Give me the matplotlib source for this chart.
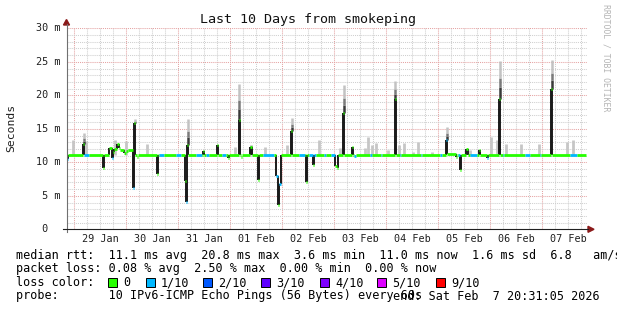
import matplotlib
matplotlib.use("Agg")
import matplotlib.pyplot as plt
from matplotlib.patches import Rectangle, Polygon
import numpy as np
from datetime import datetime, timedelta

# ---------------- data ----------------
title = "Last 10 Days from smokeping"
ylabel = "Seconds"
end_time = datetime(2026, 2, 7, 20, 31, 5)
span_hours = 240.0
baseline = 11.1

# median rtt change points (hours since start), value (ms), loss index
med_hours = [0.0, 0.6, 7.6, 8.1, 10.4, 17.0, 17.5, 19.6, 20.9, 21.4, 21.9, 23.4, 24.2, 24.7,
             26.5, 27.5, 28.4, 30.7, 31.2, 31.8, 32.6, 33.2, 41.6, 42.1, 42.7, 45.0, 50.5,
             52.8, 54.8, 55.2, 55.6, 56.1, 59.8, 62.6, 63.1, 63.6, 64.4, 65.8, 69.3, 69.9,
             71.8, 73.6, 74.4, 74.9, 79.5, 80.0, 80.5, 81.0, 84.7, 85.4, 88.2, 88.7, 90.7,
             95.8, 96.7, 97.6, 98.3, 99.1, 103.6, 104.1, 107.3, 110.1, 110.5, 111.0, 111.9,
             113.9, 114.4, 115.2, 118.8, 119.7, 122.1, 123.9, 124.1, 124.8, 125.3, 127.6,
             128.1, 131.8, 132.3, 132.7, 133.6, 140.1, 140.8, 145.2, 145.8, 151.5, 152.0,
             153.9, 154.6, 163.6, 164.3, 172.4, 173.1, 175.3, 175.8, 179.8, 180.3, 180.8,
             181.4, 182.0, 184.4, 185.4, 186.2, 189.4, 190.4, 191.0, 193.9, 194.5, 199.6,
             200.1, 201.4, 202.1, 211.6, 213.9, 218.5, 219.2, 223.6, 224.1, 232.4, 235.6]
med_values = [10.5, 11.1, 12.8, 11.1, 11.1, 9.2, 11.1, 12.1, 10.7, 11.6, 12.0, 12.8, 12.2, 11.9,
              11.4, 11.7, 11.8, 6.2, 15.8, 11.1, 10.8, 11.1, 8.3, 11.1, 11.1, 11.1, 11.1,
              11.1, 7.2, 4.1, 12.6, 11.1, 11.1, 11.1, 11.7, 11.1, 11.1, 11.1, 12.6, 11.1,
              11.1, 11.1, 10.6, 11.1, 16.3, 11.1, 10.8, 11.1, 12.3, 11.1, 7.4, 11.1, 11.1,
              11.1, 7.9, 3.6, 6.7, 11.1, 14.6, 11.1, 11.1, 11.1, 7.1, 11.1, 11.1,
              9.6, 11.1, 11.1, 11.1, 11.1, 11.1, 11.1, 9.5, 9.2, 11.1, 17.3,
              11.1, 12.3, 11.1, 10.9, 11.1, 11.1, 11.1, 11.1, 11.1, 19.4, 11.1,
              11.1, 11.1, 11.1, 11.1, 11.1, 11.1, 13.3, 11.3, 10.8, 11.1, 11.1,
              8.9, 11.1, 12.0, 11.1, 11.1, 11.1, 11.8, 11.1, 10.6, 11.1, 19.5,
              11.1, 11.1, 11.1, 11.1, 11.1, 11.1, 11.1, 20.9, 11.1, 11.1, 11.1]
med_loss = [1, 0, 0, 1, 0, 0, 0, 0, 1, 0, 0, 0, 0, 0,
            0, 0, 0, 1, 0, 0, 0, 0, 0, 0, 1, 0, 1,
            0, 0, 1, 0, 0, 1, 0, 0, 0, 1, 0, 0, 0,
            1, 0, 0, 0, 0, 0, 0, 0, 0, 0, 0, 0, 1,
            0, 1, 0, 1, 0, 0, 0, 1, 0, 0, 0, 1,
            0, 1, 0, 1, 0, 1, 0, 0, 0, 0, 0,
            0, 0, 0, 1, 0, 1, 0, 1, 0, 0, 0,
            1, 0, 1, 0, 1, 0, 1, 0, 0, 0, 1,
            0, 0, 0, 0, 1, 0, 0, 0, 1, 0, 0,
            0, 1, 0, 1, 0, 1, 0, 0, 0, 1, 0]
line_end_hour = 239.6

# smoke above the big spikes: hour, max ping (ms)
smoke_hours = [7.6, 31.2, 55.6, 79.5, 84.7, 103.6, 127.6, 151.5, 175.3, 199.6, 223.6]
smoke_top = [14.3, 16.4, 16.4, 21.7, 12.6, 16.6, 21.5, 22.2, 15.3, 25.1, 25.3]

# faint smoke bars: hour, max ping (ms)
grey_hours = [3.0, 9.0, 22.4, 27.5, 37.2, 77.8, 85.2, 91.6, 101.8, 116.5, 126.2, 137.8,
              139.3, 140.9, 142.8, 148.4, 153.5, 155.8, 159.9, 162.2, 168.7, 186.2,
              195.8, 198.7, 202.8, 209.8, 218.1, 230.9, 233.6]
grey_top = [13.3, 13.2, 13.3, 13.2, 12.8, 12.3, 12.6, 12.3, 12.6, 13.3, 12.1, 12.1,
            13.8, 12.6, 12.9, 11.8, 12.6, 12.9, 11.6, 13.1, 11.6, 11.8,
            13.8, 13.3, 12.8, 12.8, 12.7, 13.1, 13.3]

ytick_values = [0, 5, 10, 15, 20, 25, 30]
ytick_labels = [" 0  ", " 5 m", "10 m", "15 m", "20 m", "25 m", "30 m"]
xtick_labels = ["29 Jan", "30 Jan", "31 Jan", "01 Feb", "02 Feb",
                "03 Feb", "04 Feb", "05 Feb", "06 Feb", "07 Feb"]

loss_colors = ["#26ff00", "#00b8ff", "#0059ff", "#5e00ff", "#7e00ff", "#dd00ff", "#ff0000"]
loss_labels = ["0", "1/10", "2/10", "3/10", "4/10", "5/10", "9/10"]

stat_line1 = "median rtt:  11.1 ms avg  20.8 ms max  3.6 ms min  11.0 ms now  1.6 ms sd  6.8   am/s"
stat_line2 = "packet loss: 0.08 % avg  2.50 % max  0.00 % min  0.00 % now"
stat_line3 = "loss color:"
stat_line4 = "probe:       10 IPv6-ICMP Echo Pings (56 Bytes) every 60s"
end_label = "end: Sat Feb  7 20:31:05 2026"
credit = "RRDTOOL / TOBI OETIKER"

# ---------------- layout ----------------
W, H, DPI = 617, 310, 100
MONO = "DejaVu Sans Mono"
fig = plt.figure(figsize=(W / DPI, H / DPI), dpi=DPI)
fig.patch.set_facecolor("white")

def fx(x):
    return x / W

def fy(y):
    return 1 - y / H

x0, x1, ytop, ybot = 66.5, 586.5, 28.3, 229.3
ax = fig.add_axes([fx(x0), fy(ybot), (x1 - x0) / W, (ybot - ytop) / H])
ax.set_xlim(0, span_hours)
ax.set_ylim(0, 30)
for s in ax.spines.values():
    s.set_visible(False)
ax.set_xticks([])
ax.set_yticks([])

start_time = end_time - timedelta(hours=span_hours)
first_mid = datetime(start_time.year, start_time.month, start_time.day) + timedelta(days=1)
mid0 = (first_mid - start_time).total_seconds() / 3600.0

dot = (0, (1, 1))
minor_c, major_c = "#cfcfcf", "#e5a3a3"
k = -4
while True:
    h = mid0 + 6 * k
    if h > span_hours:
        break
    if h >= 0:
        ax.axvline(h, color=major_c if k % 4 == 0 else minor_c, lw=0.75, ls=dot, zorder=1)
    k += 1
for v in range(1, 31):
    ax.axhline(v, color=major_c if v % 5 == 0 else minor_c, lw=0.75, ls=dot, zorder=1)

ax.vlines(grey_hours, baseline, grey_top, color="#c6c6c6", lw=2.0, zorder=2)

mh = np.array(med_hours)
mv = np.array(med_values)

def med_at(h):
    return mv[np.searchsorted(mh, h, side="right") - 1]

for h, t in zip(smoke_hours, smoke_top):
    m = med_at(h + 0.1)
    hc = h + 0.25
    ax.vlines(hc, m, m + 0.3 * (t - m), color="#3a3a3a", lw=1.8, zorder=2.5)
    ax.vlines(hc, m + 0.3 * (t - m), m + 0.55 * (t - m), color="#7a7a7a", lw=1.8, zorder=2.5)
    ax.vlines(hc, m + 0.55 * (t - m), t, color="#c2c2c2", lw=1.8, zorder=2.5)

for i in range(1, len(med_hours)):
    if abs(med_values[i] - med_values[i - 1]) > 0.35:
        ax.vlines(med_hours[i], min(med_values[i], med_values[i - 1]),
                  max(med_values[i], med_values[i - 1]), color="#1a1a1a", lw=1.4, zorder=3)
ends = med_hours[1:] + [line_end_hour]
for i in range(len(med_hours)):
    ax.hlines(med_values[i], med_hours[i], ends[i], color=loss_colors[med_loss[i]],
              lw=2.0, zorder=4)

fig.add_artist(plt.Line2D([fx(x0), fx(x0)], [fy(ybot + 3), fy(24)], color="#707070", lw=0.8))
fig.add_artist(plt.Line2D([fx(x0 - 4), fx(588)], [fy(ybot), fy(ybot)], color="#202020", lw=0.8))
fig.add_artist(Polygon([[fx(x0 - 3), fy(25)], [fx(x0 + 3), fy(25)], [fx(x0), fy(19.5)]],
                       closed=True, color="#8b1a1a", transform=fig.transFigure))
fig.add_artist(Polygon([[fx(588), fy(ybot - 3)], [fx(588), fy(ybot + 3)], [fx(594), fy(ybot)]],
                       closed=True, color="#8b1a1a", transform=fig.transFigure))

for v, lab in zip(ytick_values, ytick_labels):
    y = ybot - v * (ybot - ytop) / 30
    fig.text(fx(60.5), fy(y), lab, family=MONO, fontsize=7.3, ha="right", va="center",
             color="#202020")
for i, lab in enumerate(xtick_labels):
    h = mid0 + 24 * i + 12
    xp = x0 + h / span_hours * (x1 - x0)
    fig.text(fx(xp), fy(238.5), lab, family=MONO, fontsize=7.3, ha="center", va="center",
             color="#202020")

fig.text(fx(308), fy(19), title, family=MONO, fontsize=9.6, ha="center", va="center",
         color="#111111")
fig.text(fx(11), fy(128), ylabel, family=MONO, fontsize=8.2, rotation=90, ha="center",
         va="center", color="#202020")
fig.text(fx(606), fy(4), credit, family=MONO, fontsize=5.9, rotation=270, ha="center",
         va="top", color="#b4b4b4")

fs = 8.5
fig.text(fx(16), fy(255), stat_line1, family=MONO, fontsize=fs, ha="left", va="center")
fig.text(fx(16), fy(268.5), stat_line2, family=MONO, fontsize=fs, ha="left", va="center")
fig.text(fx(16), fy(282.5), stat_line3, family=MONO, fontsize=fs, ha="left", va="center")
fig.text(fx(16), fy(296), stat_line4, family=MONO, fontsize=fs, ha="left", va="center")
fig.text(fx(600), fy(296), end_label, family=MONO, fontsize=fs, ha="right", va="center")
box_x = [108.3, 146, 203.3, 261, 320, 377.3, 436]
for bx, col, lab in zip(box_x, loss_colors, loss_labels):
    fig.add_artist(Rectangle((fx(bx), fy(286.8)), 9 / W, 8.6 / H, facecolor=col,
                             edgecolor="black", lw=0.7, transform=fig.transFigure))
    fig.text(fx(bx + 15), fy(282.5), lab, family=MONO, fontsize=fs, ha="left", va="center")

fig.savefig("out.png", dpi=DPI, facecolor="white")
